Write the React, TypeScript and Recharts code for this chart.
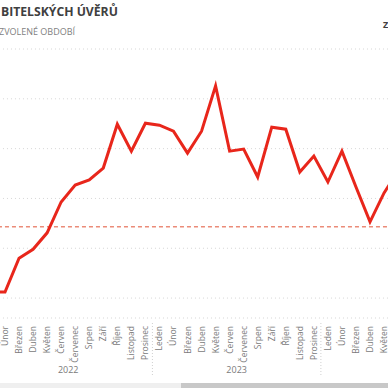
import React from 'react';
import { LineChart, Line, XAxis, YAxis, CartesianGrid, ReferenceLine } from 'recharts';

const categories = [
  'Leden', 'Únor', 'Březen', 'Duben', 'Květen', 'Červen', 'Červenec', 'Srpen', 'Září', 'Říjen', 'Listopad', 'Prosinec',
  'Leden', 'Únor', 'Březen', 'Duben', 'Květen', 'Červen', 'Červenec', 'Srpen', 'Září', 'Říjen', 'Listopad', 'Prosinec',
  'Leden', 'Únor', 'Březen', 'Duben', 'Květen', 'Červen',
];
const years = [
  2022, 2022, 2022, 2022, 2022, 2022, 2022, 2022, 2022, 2022, 2022, 2022,
  2023, 2023, 2023, 2023, 2023, 2023, 2023, 2023, 2023, 2023, 2023, 2023,
  2024, 2024, 2024, 2024, 2024, 2024,
];
const values = [
  1.12, 1.12, 1.8, 1.98, 2.31, 2.93, 3.27, 3.37, 3.61, 4.49, 3.95, 4.51,
  4.47, 4.35, 3.91, 4.35, 5.26, 3.95, 3.99, 3.43, 4.43, 4.39, 3.53, 3.85,
  3.33, 3.95, 3.23, 2.53, 3.11, 3.55,
];
const referenceValue = 2.43;
const yTicks = [1, 2, 3, 4, 5, 6];
const yDomain = [0.6, 6];
const yearLabels = ['2022', '2023'];

const data = categories.map((m, i) => ({ key: i, month: m, year: years[i], value: values[i] }));

const W = 500;
const H = 388;
const OFFSET_X = -50;
const M = { top: 49, right: 51.9, bottom: 0, left: 40.96 };
const STEP = (W - M.left - M.right) / (data.length - 1);

const FONT = '"Open Sans", "Noto Sans", sans-serif';

const MonthTick = (props: any) => {
  const { x, y, payload, index } = props;
  const i = payload && typeof payload.value === 'number' ? payload.value : index;
  const d = data[i];
  if (!d) return null;
  const pageX = x + OFFSET_X;
  const els: any[] = [];
  if (pageX > -2) {
    els.push(
      <text
        key="m"
        transform={`translate(${x + 3},${y + 8}) rotate(-90)`}
        textAnchor="end"
        fontSize={8.5}
        fontFamily={FONT}
        fill="#7a7a7a"
      >
        {d.month}
      </text>
    );
  }
  if (d.month === 'Leden' && i > 0) {
    els.push(
      <line
        key="s"
        x1={x - STEP / 2}
        x2={x - STEP / 2}
        y1={y + 5}
        y2={y + 59}
        stroke="#d0d0d0"
        strokeWidth={1}
        strokeDasharray="1 2"
      />
    );
  }
  if (d.month === 'Červen' && yearLabels.includes(String(d.year))) {
    els.push(
      <text
        key="y"
        x={x + STEP / 2}
        y={y + 55}
        textAnchor="middle"
        fontSize={9}
        fontFamily={FONT}
        fill="#7a7a7a"
      >
        {d.year}
      </text>
    );
  }
  return <g>{els}</g>;
};

export default function App() {
  return (
    <div style={{ position: 'fixed', left: 0, top: 0, width: 388, height: 388, overflow: 'hidden', background: '#fff', fontFamily: FONT }}>
      <div style={{ position: 'absolute', left: OFFSET_X, top: 0 }}>
        <LineChart width={W} height={H} data={data} margin={M}>
          <CartesianGrid vertical={false} stroke="#d6d6d6" strokeDasharray="1 3" />
          <XAxis
            dataKey="key"
            type="category"
            height={70}
            axisLine={false}
            tickLine={false}
            tickSize={0}
            tickMargin={0}
            interval={0}
            tick={<MonthTick />}
          />
          <YAxis hide domain={yDomain} ticks={yTicks} type="number" />
          <ReferenceLine y={referenceValue} stroke="#eb8b78" strokeWidth={1.5} strokeDasharray="4 3" ifOverflow="extendDomain" />
          <Line
            type="linear"
            dataKey="value"
            stroke="#e8261b"
            strokeWidth={3}
            dot={false}
            isAnimationActive={false}
          />
        </LineChart>
      </div>
      <div style={{ position: 'absolute', left: 1, top: 3, fontSize: 12.2, fontWeight: 700, color: '#404040', whiteSpace: 'nowrap', letterSpacing: 0 }}>
        BITELSKÝCH ÚVĚRŮ
      </div>
      <div style={{ position: 'absolute', left: -1, top: 25, fontSize: 9, color: '#7f7f7f', whiteSpace: 'nowrap' }}>
        ZVOLENÉ OBDOBÍ
      </div>
      <div style={{ position: 'absolute', left: 383, top: 18, fontSize: 9, fontWeight: 700, color: '#404040', whiteSpace: 'nowrap' }}>
        Z
      </div>
      <div style={{ position: 'absolute', left: 0, top: 383, width: 388, height: 5, background: '#efefef' }} />
      <div style={{ position: 'absolute', left: 181, top: 383, width: 207, height: 5, background: '#c8c8c8' }} />
    </div>
  );
}
